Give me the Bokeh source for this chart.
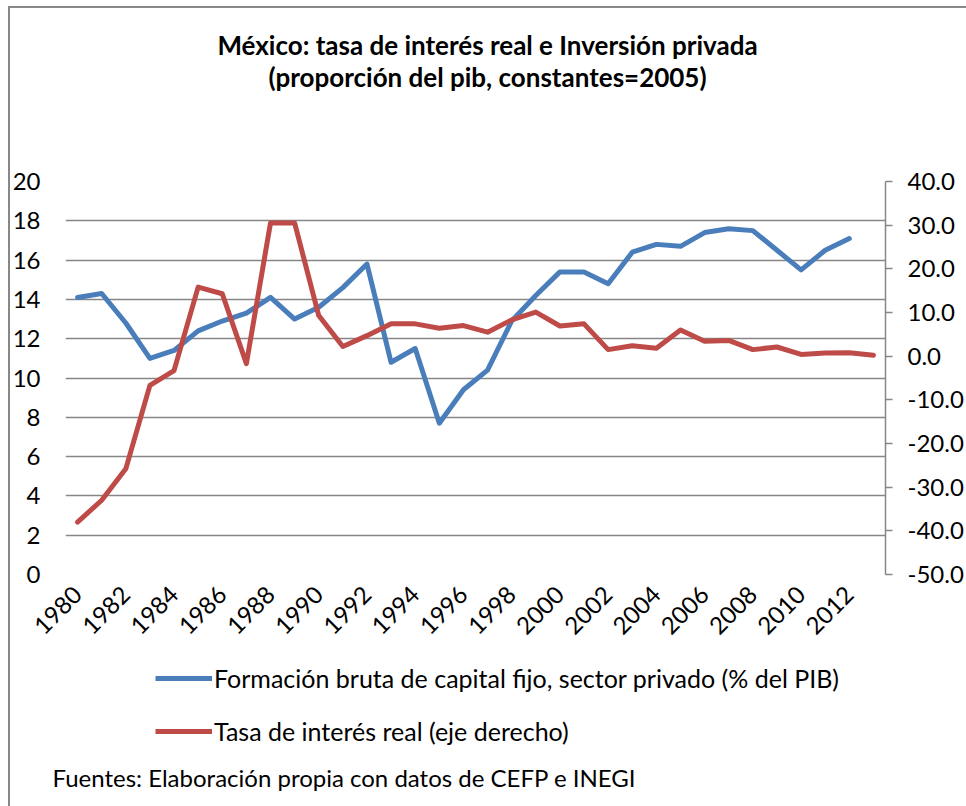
import math
from bokeh.plotting import figure
from bokeh.layouts import column
from bokeh.models import (Range1d, LinearAxis, FixedTicker, NumeralTickFormatter,
                          Legend, LegendItem, Label, Title, BasicTickFormatter)
from bokeh.embed import file_html
from bokeh.resources import INLINE

# ---------------- data ----------------
years = list(range(1980, 2014))
inversion_privada = [14.1, 14.3, 12.8, 11.0, 11.4, 12.4, 12.9, 13.3, 14.1, 13.0,
                     13.6, 14.6, 15.8, 10.8, 11.5, 7.7, 9.4, 10.4, 12.9, 14.2,
                     15.4, 15.4, 14.8, 16.4, 16.8, 16.7, 17.4, 17.6, 17.5, 16.5,
                     15.5, 16.5, 17.1]
tasa_interes_real = [-38.0, -33.0, -25.8, -6.7, -3.3, 15.8, 14.3, -1.7, 30.5, 30.5,
                     9.3, 2.2, 4.7, 7.4, 7.4, 6.4, 7.0, 5.5, 8.3, 10.1,
                     6.9, 7.4, 1.5, 2.4, 1.8, 6.0, 3.4, 3.6, 1.5, 2.1,
                     0.4, 0.7, 0.8, 0.2]
left_ticks = list(range(0, 21, 2))
right_ticks = list(range(-50, 41, 10))
x_ticks = list(range(1980, 2013, 2))

title_1 = "México: tasa de interés real e Inversión privada"
title_2 = "(proporción del pib, constantes=2005)"
label_inv = "Formación bruta de capital fijo, sector privado (% del PIB)"
label_tasa = "Tasa de interés real (eje derecho)"
footnote = "Fuentes: Elaboración propia con datos de CEFP e INEGI"

FONT = "Lato"
GRID = "#868686"
BLUE = "#4A7EBB"
RED = "#BE4B48"
W = 966
TOP_H, MAIN_H, BOT_H = 150, 506, 150
FRAME_LEFT = 65


def blank_fig(h):
    f = figure(width=W, height=h, output_backend="svg", toolbar_location=None,
               x_axis_type=None, y_axis_type=None, min_border=0,
               x_range=Range1d(0, 1), y_range=Range1d(0, 1),
               outline_line_color=None, background_fill_color=None,
               border_fill_color=None)
    f.grid.visible = False
    return f


# ---------------- title panel ----------------
top = blank_fig(TOP_H)
for txt, yy in [(title_1, TOP_H - 44), (title_2, TOP_H - 76)]:
    top.add_layout(Label(x=487 - FRAME_LEFT, y=yy, x_units="screen", y_units="screen",
                         text=txt, text_align="center", text_baseline="middle",
                         text_font=FONT, text_font_style="bold",
                         text_font_size="26px", text_color="#000000"))

# ---------------- main chart ----------------
p = figure(width=W, height=MAIN_H, output_backend="svg", toolbar_location=None,
           x_range=Range1d(1979.5, 2013.5), y_range=Range1d(0, 20),
           min_border_left=FRAME_LEFT, min_border_right=81, min_border_top=31,
           min_border_bottom=82, outline_line_color=None,
           background_fill_color=None, border_fill_color=None)
p.extra_y_ranges = {"right": Range1d(-50, 40)}

ly = p.yaxis[0]
ly.ticker = FixedTicker(ticks=left_ticks)
ly.axis_line_color = None
ly.major_tick_line_color = None
ly.minor_tick_line_color = None
ly.major_label_standoff = 19
ly.major_label_text_font = FONT
ly.major_label_text_font_size = "24px"
ly.major_label_text_color = "#000000"

ry = LinearAxis(y_range_name="right", ticker=FixedTicker(ticks=right_ticks),
                formatter=NumeralTickFormatter(format="0.0"))
ry.axis_line_color = GRID
ry.axis_line_width = 1.5
ry.major_tick_line_color = GRID
ry.major_tick_line_width = 1.5
ry.major_tick_in = 0
ry.major_tick_out = 7
ry.minor_tick_line_color = None
ry.major_label_standoff = 15
ry.major_label_text_font = FONT
ry.major_label_text_font_size = "24px"
ry.major_label_text_color = "#000000"
p.add_layout(ry, "right")

xa = p.xaxis[0]
xa.ticker = FixedTicker(ticks=x_ticks)
xa.formatter = BasicTickFormatter(use_scientific=False)
xa.axis_line_color = None
xa.major_tick_line_color = None
xa.minor_tick_line_color = None
xa.major_label_orientation = math.pi / 4
xa.major_label_standoff = 10
xa.major_label_text_font = FONT
xa.major_label_text_font_size = "24px"
xa.major_label_text_color = "#000000"

p.xgrid.grid_line_color = None
p.ygrid.grid_line_color = GRID
p.ygrid.grid_line_width = 1.5

p.line(years[:len(inversion_privada)], inversion_privada, line_color=BLUE,
       line_width=5, line_join="round", line_cap="round")
p.line(years, tasa_interes_real, line_color=RED, line_width=5,
       line_join="round", line_cap="round", y_range_name="right")

# ---------------- legend + source panel ----------------
bot = blank_fig(BOT_H)
# legend proxies (same series, outside this panel's visible range)
k_inv = bot.line(years[:len(inversion_privada)], inversion_privada, line_color=BLUE,
                 line_width=5)
k_tasa = bot.line(years, tasa_interes_real, line_color=RED, line_width=5)
legend = Legend(items=[LegendItem(label=label_inv, renderers=[k_inv]),
                       LegendItem(label=label_tasa, renderers=[k_tasa])],
                location=(155 - FRAME_LEFT, 2), orientation="vertical",
                glyph_width=57, glyph_height=30, label_height=30,
                label_standoff=2, spacing=23, padding=0, margin=0,
                border_line_color=None, background_fill_alpha=0,
                label_text_font=FONT, label_text_font_size="25px",
                label_text_color="#000000")
bot.add_layout(legend)
bot.add_layout(Title(text=footnote, align="left", vertical_align="middle",
                     offset=-13, standoff=27, text_font=FONT,
                     text_font_style="normal", text_font_size="24px",
                     text_color="#000000"), "below")

layout = column(top, p, bot, spacing=0)
layout.styles = {
    "background": ("linear-gradient(#888888,#888888) 8px 6px / 100% 2px no-repeat, "
                   "linear-gradient(#888888,#888888) 8px 6px / 2px 100% no-repeat, #ffffff"),
}

open("out.html", "w").write(file_html(layout, INLINE))
